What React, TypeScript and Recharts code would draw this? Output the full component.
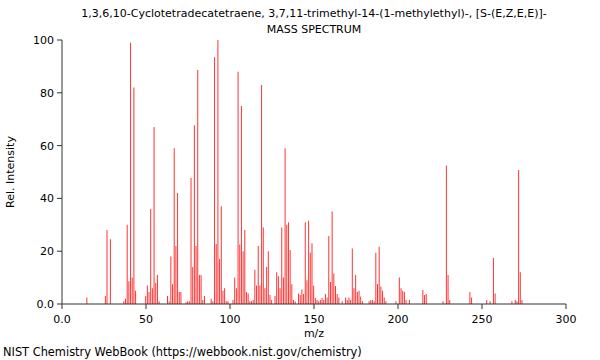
import React from 'react';
import { BarChart, Bar, XAxis, YAxis } from 'recharts';

const mzValues = [
  15, 26, 27, 29, 37, 38, 39, 40, 41, 42, 43, 44, 50, 51, 52, 53, 54, 55, 56, 57, 58,
  63, 64, 65, 66, 67, 68, 69, 70, 71, 74, 75, 76, 77, 78, 79, 80, 81, 82, 83, 84, 85,
  89, 90, 91, 92, 93, 94, 95, 96, 97, 98, 99, 102, 103, 104, 105, 106, 107, 108, 109,
  110, 111, 112, 113, 114, 115, 116, 117, 118, 119, 120, 121, 122, 123, 124, 125, 127,
  128, 129, 130, 131, 132, 133, 134, 135, 136, 137, 138, 139, 141, 142, 143, 144, 145,
  146, 147, 148, 149, 150, 151, 152, 153, 154, 155, 156, 157, 158, 159, 160, 161, 162,
  163, 164, 165, 167, 169, 170, 171, 172, 173, 174, 175, 176, 177, 178, 179, 183, 184,
  185, 186, 187, 188, 189, 190, 191, 192, 193, 199, 201, 202, 203, 204, 205, 207, 215,
  216, 217, 227, 229, 230, 231, 243, 244, 253, 255, 257, 258, 268, 270, 271, 272, 273, 274,
];

const intensities = [
  2.5, 3, 28, 24.5, 1, 2, 30, 8.6, 99, 10, 82, 5, 3, 7, 4.5, 36, 6, 67, 8, 11, 1,
  3, 1, 18, 7.5, 59, 22, 42, 4.5, 4.5, 0.7, 1, 1, 47.7, 14, 67.7, 22, 88.6, 11, 11, 1.5, 3,
  2, 1, 93.5, 22.7, 100, 17, 37, 5, 6, 1, 1, 1.5, 10, 6, 88, 22.5, 75, 20, 28,
  4.5, 4, 1, 1, 1.5, 13, 7, 22, 7, 83, 29, 6, 14, 20, 3.4, 1.5, 3,
  12, 10.5, 6, 29, 10, 59, 30, 31, 20.5, 7.5, 1.5, 1, 4, 3.4, 5.5, 3.8, 31,
  9, 31.5, 19.4, 23, 7, 2.3, 1.5, 1, 1.5, 2.3, 1.5, 3.8, 2.5, 25.8, 8.3, 35, 11.6,
  6.8, 3.8, 2.5, 1, 2.5, 1.5, 2.5, 1.5, 21, 6, 11, 4.5, 5, 2.8, 1, 1, 1.5,
  1.5, 1, 19.4, 7.6, 21.7, 6.6, 5, 2.5, 1, 1, 10, 6, 5, 4.5, 1.5, 1.5, 5.3,
  3.4, 3.8, 1, 52.5, 11, 1.5, 4.5, 2.5, 1.5, 1, 17.4, 4, 1, 1.5, 1, 50.8, 12, 1.5,
];

const xMajorTicks = [0, 50, 100, 150, 200, 250, 300];
const xMinorTicks = [0, 10, 20, 30, 40, 50, 60, 70, 80, 90, 100, 110, 120, 130, 140, 150,
  160, 170, 180, 190, 200, 210, 220, 230, 240, 250, 260, 270, 280, 290, 300];
const yMajorTicks = [0, 20, 40, 60, 80, 100];
const yMinorTicks = [0, 5, 10, 15, 20, 25, 30, 35, 40, 45, 50, 55, 60, 65, 70, 75, 80, 85, 90, 95, 100];

const titleLine1 = '1,3,6,10-Cyclotetradecatetraene, 3,7,11-trimethyl-14-(1-methylethyl)-, [S-(E,Z,E,E)]-';
const titleLine2 = 'MASS SPECTRUM';
const xLabel = 'm/z';
const yLabel = 'Rel. Intensity';
const credit = 'NIST Chemistry WebBook (https://webbook.nist.gov/chemistry)';

const data = mzValues.map((mz, i) => ({ mz, intensity: intensities[i] }));
const fmt = (v: number) => (v === 0 ? '0.0' : String(v));

const FONT = '"DejaVu Sans", sans-serif';
const AXIS = '#333333';
const tickStyle = { fill: '#000', fontSize: 11, fontFamily: FONT };
const textBase: React.CSSProperties = {
  position: 'absolute',
  fontFamily: FONT,
  fontSize: 11,
  lineHeight: '13px',
  color: '#000',
  whiteSpace: 'nowrap',
};

export default function App() {
  return (
    <div style={{ position: 'absolute', left: 0, top: 0, width: 600, height: 360, background: '#fff' }}>
      <BarChart
        width={600}
        height={360}
        data={data}
        margin={{ top: 40, right: 34, bottom: 0, left: 0 }}
        barCategoryGap={0}
        barGap={0}
      >
        <XAxis
          xAxisId="minor"
          type="number"
          dataKey="mz"
          domain={[0, 300]}
          ticks={xMinorTicks}
          height={0}
          tick={false}
          tickSize={3}
          axisLine={false}
          tickLine={{ stroke: AXIS }}
        />
        <XAxis
          xAxisId="main"
          type="number"
          dataKey="mz"
          domain={[0, 300]}
          ticks={xMajorTicks}
          height={56}
          tickSize={5}
          tickMargin={6}
          tick={tickStyle}
          tickFormatter={fmt}
          axisLine={{ stroke: AXIS }}
          tickLine={{ stroke: AXIS }}
        />
        <XAxis
          xAxisId="top"
          orientation="top"
          type="number"
          dataKey="mz"
          domain={[0, 300]}
          height={0}
          tick={false}
          tickLine={false}
          axisLine={{ stroke: AXIS }}
        />
        <YAxis
          yAxisId="minor"
          type="number"
          domain={[0, 100]}
          ticks={yMinorTicks}
          width={0}
          tick={false}
          tickSize={3}
          axisLine={false}
          tickLine={{ stroke: AXIS }}
        />
        <YAxis
          yAxisId="main"
          type="number"
          domain={[0, 100]}
          ticks={yMajorTicks}
          width={62}
          tickSize={5}
          tickMargin={3}
          tick={tickStyle}
          tickFormatter={fmt}
          axisLine={{ stroke: AXIS }}
          tickLine={{ stroke: AXIS }}
        />
        <YAxis
          yAxisId="right"
          orientation="right"
          type="number"
          domain={[0, 100]}
          width={0}
          tick={false}
          tickLine={false}
          axisLine={{ stroke: AXIS }}
        />
        <Bar
          xAxisId="main"
          yAxisId="main"
          dataKey="intensity"
          fill="#ff3333"
          barSize={1}
          isAnimationActive={false}
        />
      </BarChart>
      <div style={{ ...textBase, left: 62, width: 504, top: 7, textAlign: 'center' }}>{titleLine1}</div>
      <div style={{ ...textBase, left: 62, width: 504, top: 23, textAlign: 'center' }}>{titleLine2}</div>
      <div style={{ ...textBase, left: 62, width: 504, top: 327, textAlign: 'center' }}>{xLabel}</div>
      <div style={{ ...textBase, fontSize: 11.4, left: 3, top: 346 }}>{credit}</div>
      <div
        style={{
          ...textBase,
          left: 10,
          top: 172,
          transform: 'translate(-50%, -50%) rotate(-90deg)',
        }}
      >
        {yLabel}
      </div>
    </div>
  );
}
